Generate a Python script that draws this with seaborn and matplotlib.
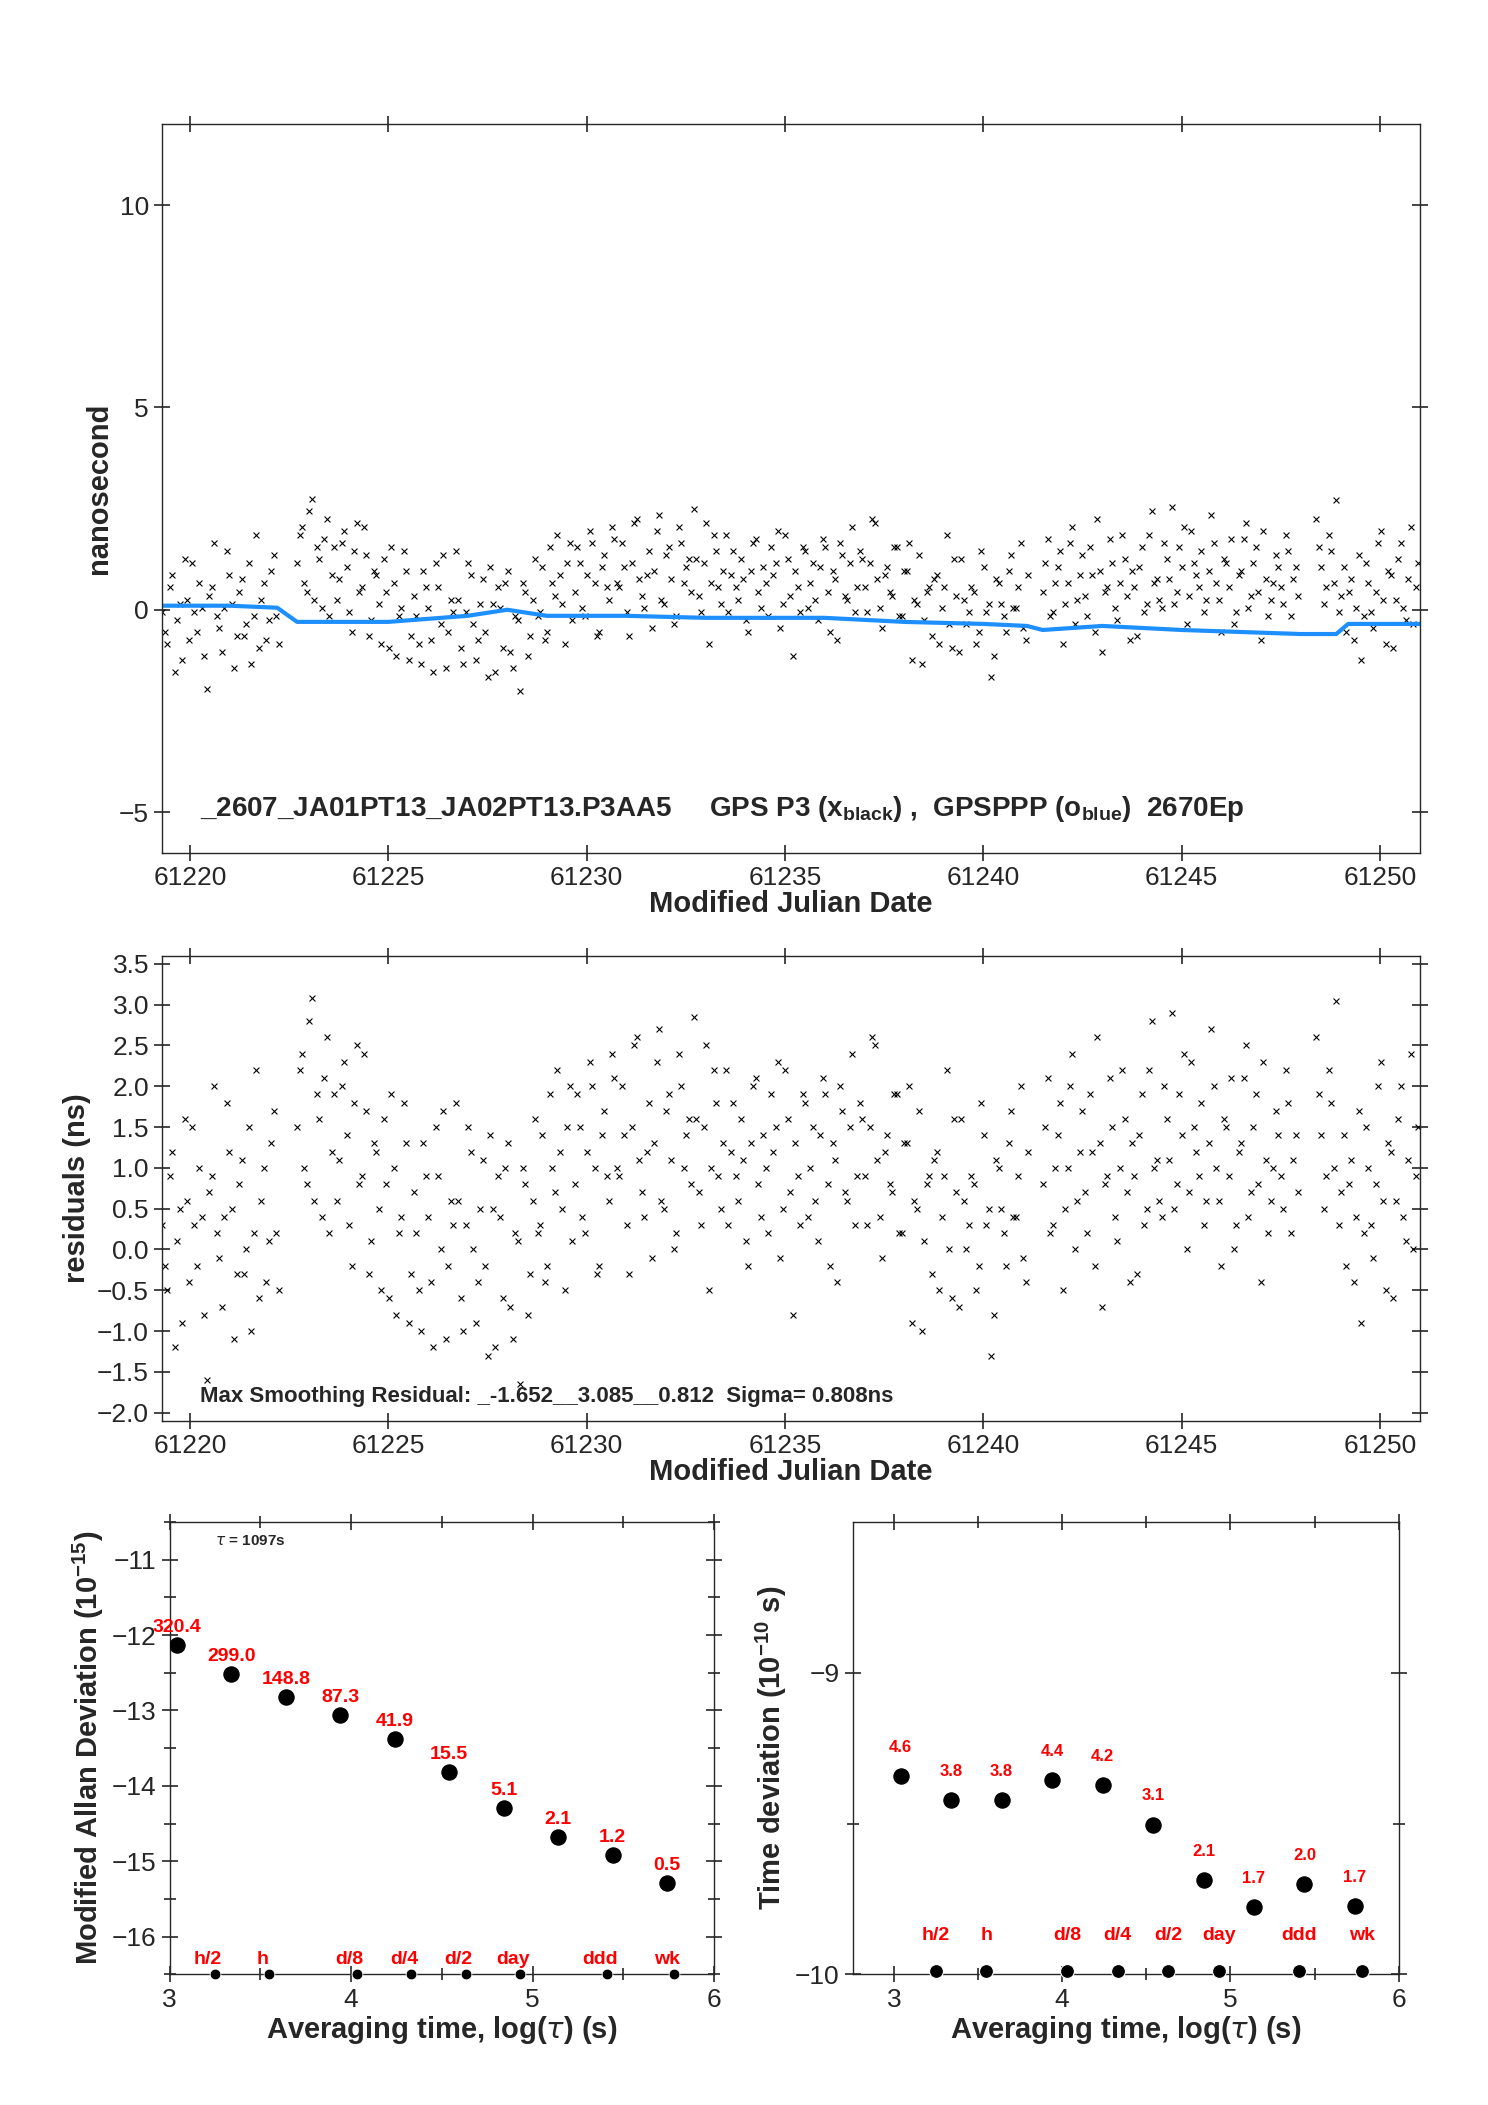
import numpy as np
import pandas as pd
import matplotlib
matplotlib.use("Agg")
import matplotlib.pyplot as plt
import seaborn as sns

# ---- residual series (ns), sampled every 0.125 day per data segment ----
seg_starts = [61219.3, 61222.7, 61241.5, 61248.4]
seg_ends = [61222.3, 61241.2, 61248.0, 61251.0]
resid_vals = [
    0.3, -0.5, 1.2, 0.1, -0.9, 0.6, 1.5, -0.2, 0.4, -1.6, 0.9, 0.2, -0.7, 1.8, 0.5, -0.3, 1.1, 0.0, -1.0, 2.2, 0.6, -0.4, 1.3, 0.2,
    1.5, 2.4, 0.8, 3.08, 1.9, 0.4, 2.6, 1.2,
    0.6, 2.0, 1.4, -0.2, 2.5, 0.9, 1.7, 0.1,
    1.2, -0.5, 0.8, 1.9, -0.8, 0.4, 1.3, -0.3,
    0.2, -1.0, 0.9, -0.4, 1.5, 0.0, -1.1, 0.6,
    1.8, -0.6, 0.3, 1.2, -0.9, 0.5, -0.2, 1.4,
    -1.2, 0.4, 1.0, -0.7, 0.2, -1.65, 0.8, -0.3,
    1.6, 0.3, -0.4, 1.9, 0.7, 1.2, -0.5, 2.0,
    0.8, 1.5, 0.2, 2.3, 1.0, -0.2, 1.7, 0.6,
    2.1, 0.9, 1.4, -0.3, 2.5, 1.1, 0.4, 1.8,
    1.3, 2.7, 0.5, 1.9, 0.0, 2.4, 1.0, 1.6,
    2.85, 0.7, 1.5, -0.5, 2.2, 0.9, 1.3, 0.3,
    1.8, 0.6, 1.1, -0.2, 2.0, 0.8, 1.4, 0.2,
    1.2, 2.3, 0.5, 1.6, -0.8, 0.9, 1.9, 0.4,
    1.5, 0.1, 2.1, 0.8, 1.3, -0.4, 1.7, 0.6,
    2.4, 0.9, 1.6, 0.3, 2.6, 1.1, -0.1, 1.4,
    0.7, 1.9, 0.2, 1.3, -0.9, 0.5, -1.0, 0.8,
    -0.3, 1.2, 0.4, 2.2, -0.6, 0.7, 1.6, 0.0,
    0.9, -0.5, 1.8, 0.3, -1.3, 1.1, 0.5, -0.2,
    1.7, 0.4, 2.0, -0.4,
    0.8, 2.1, 0.3, 1.4, -0.5, 1.0, 2.4, 0.6,
    1.7, 0.2, 1.2, 2.6, -0.7, 0.9, 1.5, 0.1,
    2.2, 0.7, 1.3, -0.3, 1.9, 0.5, 2.8, 1.1,
    0.4, 1.6, 2.9, 0.8, 1.4, 0.0, 2.3, 1.2,
    1.8, 0.6, 2.7, 1.0, -0.2, 1.5, 2.1, 0.3,
    1.3, 2.5, 0.7, 1.9, -0.4, 1.1, 0.6, 1.7,
    0.9, 2.2, 0.2, 1.4,
    2.6, 1.4, 0.9, 1.8, 3.05, 0.7, -0.2, 1.1, 0.4, -0.9, 1.5, 0.3, 0.8, 2.3, -0.5, 1.2, 0.6, 2.0, 0.1, 2.4, 0.9,
]
# second set of epochs, half a step later
resid_vals_b = [
    -0.2, 0.9, -1.2, 0.5, 1.6, -0.4, 0.3, 1.0, -0.8, 0.7, 2.0, -0.1, 0.4, 1.2, -1.1, 0.8, -0.3, 1.5, 0.2, -0.6, 1.0, 0.1, 1.7, -0.5,
    2.2, 1.0, 2.8, 0.6, 1.6, 2.1, 0.2, 1.9,
    1.1, 2.3, 0.3, 1.8, 0.8, 2.4, -0.3, 1.3,
    0.5, 1.6, -0.6, 1.0, 0.2, 1.8, -0.9, 0.7,
    -0.5, 1.3, 0.4, -1.2, 0.9, 1.7, -0.2, 0.3,
    0.6, -1.0, 1.5, 0.0, -0.4, 1.1, -1.3, 0.5,
    0.9, -0.6, 1.3, -1.1, 0.1, 1.0, -0.8, 0.6,
    0.2, 1.4, -0.2, 1.0, 2.2, 0.5, 1.5, 0.1,
    1.9, 0.4, 1.2, 2.0, -0.3, 1.4, 0.9, 2.4,
    1.0, 2.0, 0.3, 1.5, 2.6, 0.7, 1.2, -0.1,
    2.3, 0.6, 1.7, 1.1, 0.2, 2.0, 1.4, 0.8,
    1.6, 0.3, 2.5, 1.0, 1.8, 0.5, 2.2, 1.2,
    0.9, 1.6, 0.1, 1.3, 2.1, 0.4, 1.0, 1.9,
    1.5, -0.1, 2.2, 0.7, 1.3, 0.3, 1.8, 1.0,
    0.6, 1.4, 1.9, -0.2, 1.1, 2.0, 0.7, 1.5,
    0.3, 1.8, 0.9, 1.5, 2.5, 0.4, 1.2, 0.8,
    1.9, 0.2, 1.3, 2.0, 0.6, 1.7, 0.1, 0.9,
    1.1, -0.5, 0.9, 0.0, 1.6, -0.7, 0.6, 0.3,
    0.8, -0.2, 1.4, 0.5, -0.8, 1.0, 0.2, 1.3,
    0.4, 0.9, -0.1, 1.2,
    1.5, 0.2, 1.0, 1.8, 0.5, 2.0, 0.0, 1.2,
    0.7, 1.9, -0.2, 1.3, 0.8, 2.1, 0.4, 1.0,
    1.6, -0.4, 0.9, 1.4, 0.3, 2.2, 1.0, 0.6,
    2.0, 1.1, 0.5, 1.9, 2.4, 0.7, 1.5, 0.9,
    0.3, 1.3, 2.0, 0.6, 1.6, 0.9, 0.0, 1.2,
    2.1, 0.4, 1.5, 0.8, 2.3, 0.2, 1.0, 1.4,
    0.5, 1.8, 1.1, 0.7,
    1.9, 0.5, 2.2, 1.0, 0.3, 1.4, 0.8, -0.4, 1.7, 0.2, 1.0, -0.1, 2.0, 0.6, 1.3, -0.6, 1.6, 0.4, 1.1, 0.0, 1.5,
]
top_offset = -0.35  # raw P3 data sits a bit below the residual level

# ---- GPSPPP (blue) knots ----
blue_mjd = [61219.3, 61221.0, 61222.2, np.nan, 61222.7, 61225.0, 61227.0, 61228.0, 61229.0, 61231.0, 61233.0,
            61236.0, 61238.0, 61240.0, 61241.1, np.nan, 61241.5, 61243.0, 61245.0, 61248.0, np.nan,
            61248.4, 61248.9, np.nan, 61249.2, 61251.0]
blue_ns = [0.1, 0.1, 0.05, np.nan, -0.3, -0.3, -0.15, 0.0, -0.15, -0.15, -0.2,
           -0.2, -0.3, -0.35, -0.4, np.nan, -0.5, -0.4, -0.5, -0.6, np.nan,
           -0.6, -0.6, np.nan, -0.35, -0.35]

# ---- stability plots ----
log_tau = [3.04, 3.34, 3.64, 3.94, 4.24, 4.54, 4.84, 5.14, 5.44, 5.74]
mdev_log = [-12.13, -12.52, -12.82, -13.06, -13.38, -13.81, -14.29, -14.68, -14.91, -15.29]
mdev_lbl = ["320.4", "299.0", "148.8", "87.3", "41.9", "15.5", "5.1", "2.1", "1.2", "0.5"]
tdev_log = [-9.342, -9.422, -9.423, -9.355, -9.372, -9.503, -9.688, -9.777, -9.700, -9.773]
tdev_lbl = ["4.6", "3.8", "3.8", "4.4", "4.2", "3.1", "2.1", "1.7", "2.0", "1.7"]
mark_x = [3.25, 3.55, 4.03, 4.33, 4.63, 4.93, 5.41, 5.78]
mark_lbl = ["h/2", "h", "d/8", "d/4", "d/2", "day", "ddd", "wk"]

mjd = np.concatenate([np.arange(s, e - 1e-9, 0.125) for s, e in zip(seg_starts, seg_ends)])
df = pd.concat([
    pd.DataFrame({"mjd": mjd[:len(resid_vals)], "resid": resid_vals[:len(mjd)]}),
    pd.DataFrame({"mjd": mjd[:len(resid_vals_b)] + 0.0625, "resid": resid_vals_b[:len(mjd)]}),
], ignore_index=True)
df["top"] = df["resid"] + top_offset

sns.set_style("ticks")
plt.rcParams["font.family"] = ["Liberation Sans", "DejaVu Sans"]
plt.rcParams["mathtext.fontset"] = "custom"
plt.rcParams["mathtext.rm"] = "Liberation Sans"
plt.rcParams["mathtext.bf"] = "Liberation Sans:bold"
plt.rcParams["xtick.direction"] = "inout"
plt.rcParams["ytick.direction"] = "inout"

fig = plt.figure(figsize=(14.88, 21.05), dpi=100)
ax1 = fig.add_axes([0.109, 0.595, 0.845, 0.346])
ax2 = fig.add_axes([0.109, 0.325, 0.845, 0.221])
ax3 = fig.add_axes([0.114, 0.062, 0.366, 0.215])
ax4 = fig.add_axes([0.573, 0.062, 0.367, 0.215])

tick_fs = 19
lab_fs = 21


def style(ax):
    ax.tick_params(axis="both", which="both", top=True, right=True, labelsize=tick_fs,
                   length=12, width=1.2)
    ax.tick_params(which="minor", length=8)
    for s in ax.spines.values():
        s.set_linewidth(1.0)


# top panel
sns.scatterplot(data=df, x="mjd", y="top", ax=ax1, marker="x", color="black", s=18, linewidth=0.8)
sns.lineplot(x=blue_mjd, y=blue_ns, ax=ax1, color="#1e8fff", linewidth=3.0, sort=False)
ax1.set_xlim(61219.3, 61251.0)
ax1.set_ylim(-6, 12)
ax1.set_yticks([-5, 0, 5, 10])
ax1.set_xticks(range(61220, 61251, 5))
ax1.set_xlabel("Modified Julian Date", fontsize=lab_fs, fontweight="bold", labelpad=0)
ax1.set_ylabel("nanosecond", fontsize=lab_fs, fontweight="bold")
ax1.text(0.03, 0.05, "_2607_JA01PT13_JA02PT13.P3AA5     GPS P3 (x$_{\\mathbf{black}}$) ,  GPSPPP (o$_{\\mathbf{blue}}$)  2670Ep",
         transform=ax1.transAxes, fontsize=20, fontweight="bold")
style(ax1)

# middle panel
sns.scatterplot(data=df, x="mjd", y="resid", ax=ax2, marker="x", color="black", s=18, linewidth=0.8)
ax2.set_xlim(61219.3, 61251.0)
ax2.set_ylim(-2.1, 3.6)
ax2.set_yticks(np.arange(-2.0, 3.51, 0.5))
ax2.set_yticklabels([f"{v:.1f}".replace("-", "\u2212") for v in np.arange(-2.0, 3.51, 0.5)])
ax2.set_xticks(range(61220, 61251, 5))
ax2.set_xlabel("Modified Julian Date", fontsize=lab_fs, fontweight="bold", labelpad=0)
ax2.set_ylabel("residuals (ns)", fontsize=lab_fs, fontweight="bold")
ax2.text(0.03, 0.04, "Max Smoothing Residual: _-1.652__3.085__0.812  Sigma= 0.808ns",
         transform=ax2.transAxes, fontsize=16, fontweight="bold")
style(ax2)

# MDEV panel
sns.scatterplot(x=log_tau, y=mdev_log, ax=ax3, color="black", s=120, edgecolor="black", zorder=3)
sns.scatterplot(x=mark_x, y=[-16.5] * len(mark_x), ax=ax3, color="black", s=60, clip_on=False, zorder=3)
for x, y, t in zip(log_tau, mdev_log, mdev_lbl):
    ax3.text(x, y + 0.12, t, color="red", fontsize=14, fontweight="bold", ha="center", va="bottom")
for x, t in zip(mark_x, mark_lbl):
    ax3.text(x - 0.04, -16.42, t, color="red", fontsize=14, fontweight="bold", ha="center", va="bottom")
ax3.text(3.25, -10.8, r"$\tau$ = 1097s", fontsize=11, fontweight="bold")
ax3.set_xlim(3, 6)
ax3.set_ylim(-16.5, -10.5)
ax3.set_xticks([3, 4, 5, 6])
ax3.set_xticks([3.5, 4.5, 5.5], minor=True)
ax3.set_yticks([-16, -15, -14, -13, -12, -11])
ax3.set_yticks(np.arange(-16.5, -10.4, 1.0), minor=True)
ax3.set_xlabel(r"Averaging time, log($\tau$) (s)", fontsize=lab_fs, fontweight="bold", labelpad=2)
ax3.set_ylabel(r"Modified Allan Deviation (10$^{\mathbf{-15}}$)", fontsize=lab_fs, fontweight="bold")
style(ax3)

# TDEV panel
sns.scatterplot(x=log_tau, y=tdev_log, ax=ax4, color="black", s=120, edgecolor="black", zorder=3)
sns.scatterplot(x=mark_x, y=[-9.99] * len(mark_x), ax=ax4, color="black", s=100, clip_on=False, zorder=3)
for x, y, t in zip(log_tau, tdev_log, tdev_lbl):
    ax4.text(x, y + 0.07, t, color="red", fontsize=12, fontweight="bold", ha="center", va="bottom")
for x, t in zip(mark_x, mark_lbl):
    ax4.text(x, -9.9, t, color="red", fontsize=14, fontweight="bold", ha="center", va="bottom")
ax4.set_xlim(2.755, 6)
ax4.set_ylim(-10, -8.5)
ax4.set_xticks([3, 4, 5, 6])
ax4.set_xticks([3.5, 4.5, 5.5], minor=True)
ax4.set_yticks([-10, -9])
ax4.set_yticks([-9.5], minor=True)
ax4.set_xlabel(r"Averaging time, log($\tau$) (s)", fontsize=lab_fs, fontweight="bold", labelpad=2)
ax4.set_ylabel(r"Time deviation (10$^{\mathbf{-10}}$ s)", fontsize=lab_fs, fontweight="bold")
style(ax4)

fig.savefig("out.png", dpi=100, facecolor="white")
